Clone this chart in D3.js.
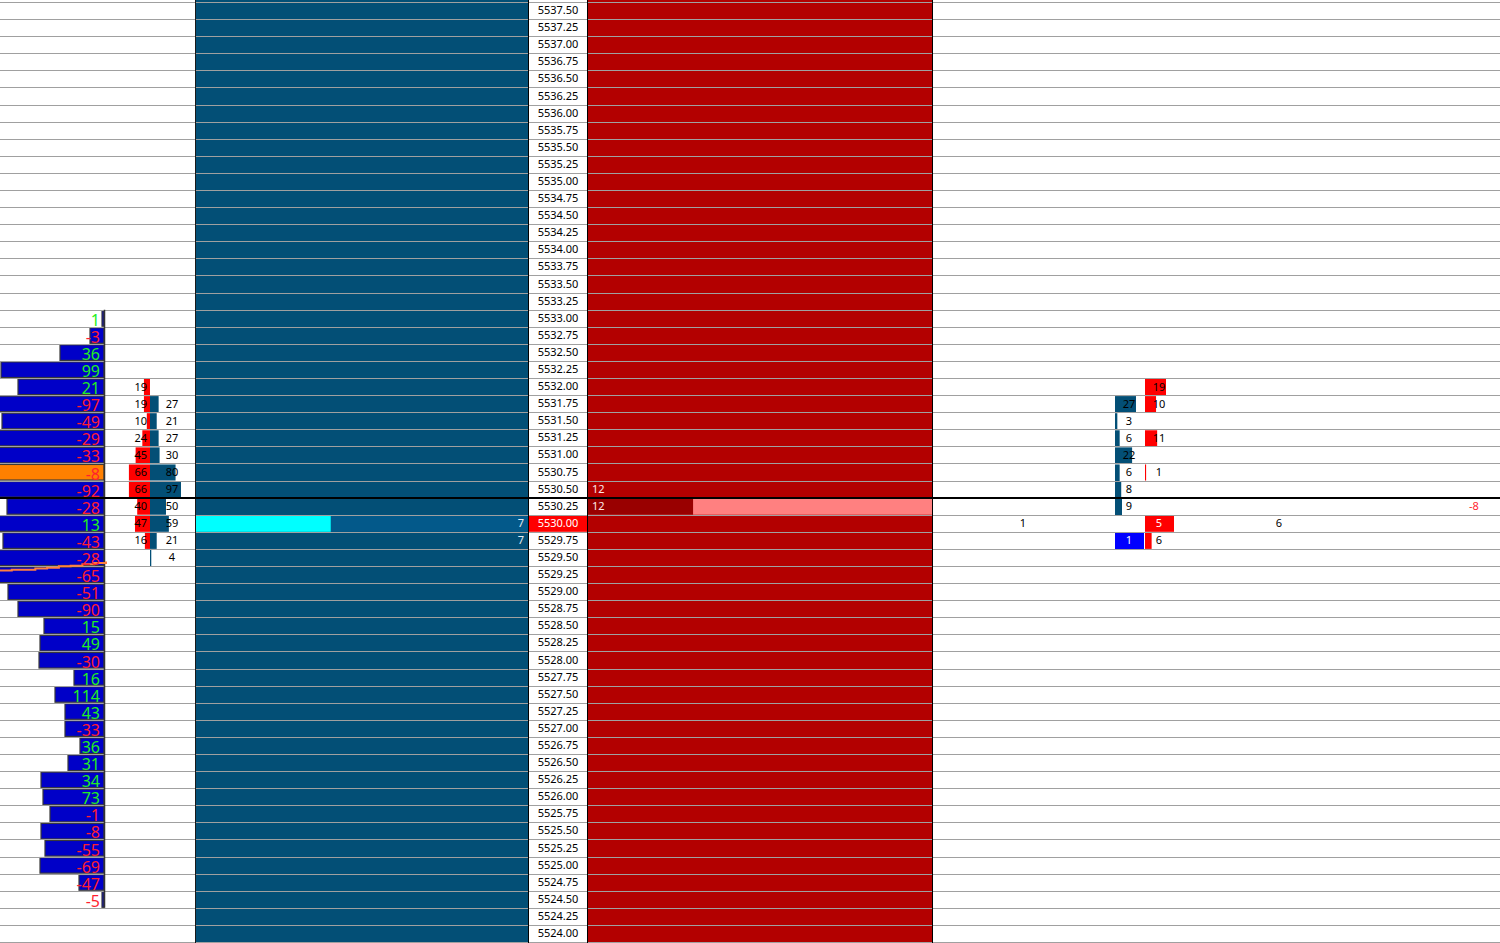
<!DOCTYPE html>
<html><head><meta charset="utf-8">
<script src="https://cdn.jsdelivr.net/npm/d3@7"></script>
<style>html,body{margin:0;padding:0;background:#fff;overflow:hidden}svg{display:block}text{font-family:"Noto Sans","Open Sans",sans-serif}</style>
</head><body><svg id="c" width="1500" height="943"></svg>
<script>
// ---------- DATA ----------
const priceLevels = [5537.50,5537.25,5537.00,5536.75,5536.50,5536.25,5536.00,5535.75,5535.50,5535.25,
  5535.00,5534.75,5534.50,5534.25,5534.00,5533.75,5533.50,5533.25,5533.00,5532.75,
  5532.50,5532.25,5532.00,5531.75,5531.50,5531.25,5531.00,5530.75,5530.50,5530.25,
  5530.00,5529.75,5529.50,5529.25,5529.00,5528.75,5528.50,5528.25,5528.00,5527.75,
  5527.50,5527.25,5527.00,5526.75,5526.50,5526.25,5526.00,5525.75,5525.50,5525.25,
  5525.00,5524.75,5524.50,5524.25,5524.00];
const lastPrice = 5530.00;
const currentLine = 5530.25; // line drawn at top of this row

const profilePrices = [5533.00,5532.75,5532.50,5532.25,5532.00,5531.75,5531.50,5531.25,5531.00,5530.75,
  5530.50,5530.25,5530.00,5529.75,5529.50,5529.25,5529.00,5528.75,5528.50,5528.25,
  5528.00,5527.75,5527.50,5527.25,5527.00,5526.75,5526.50,5526.25,5526.00,5525.75,
  5525.50,5525.25,5525.00,5524.75,5524.50];
const profileDelta = [1,-3,36,99,21,-97,-49,-29,-33,-8,-92,-28,13,-43,-28,-65,-51,-90,15,49,
  -30,16,114,43,-33,36,31,34,73,-1,-8,-55,-69,-47,-5];
const profileVol = [6,42,132,309,258,330,306,340,335,360,350,291,320,303,318,325,288,258,180,192,
  195,90,147,117,117,72,108,189,183,162,189,177,192,75,6];
const pocPrice = 5530.75;
const vwapValues = [5529.31,5529.32,5529.32,5529.34,5529.35,5529.37,5529.38,5529.40,5529.42,5529.44];

const fpPrices = [5532.00,5531.75,5531.50,5531.25,5531.00,5530.75,5530.50,5530.25,5530.00,5529.75,5529.50];
const fpBid = [19,19,10,24,45,66,66,40,47,16,null];
const fpAsk = [null,27,21,27,30,80,97,50,59,21,4];

const bidDepthPrices = [5530.00,5529.75];
const bidDepth = [7,7];
const askDepthPrices = [5530.50,5530.25];
const askDepth = [12,12];

const rtPrices = [5532.00,5531.75,5531.50,5531.25,5531.00,5530.75,5530.50,5530.25,5530.00,5529.75];
const rtBuy  = [null,27,3,6,22,6,8,9,null,1];
const rtSell = [19,10,null,11,null,1,null,null,5,6];
const rtBestSell = 5530.00;
const rtBestBuy = 5529.75;

const noteA = [{p:5530.00, v:1}];
const noteB = [{p:5530.00, v:6}];
const noteDelta = [{p:5530.25, v:-8}];

// ---------- DRAW ----------
const W = 1500, H = 943;
const svg = d3.select("#c");
const y = d3.scaleBand().domain(priceLevels).range([2, 942]).paddingInner(0).paddingOuter(0);
const h = y.bandwidth();
const yc = p => y(p) + h/2;
const yLin = d3.scaleLinear().domain([priceLevels[0], priceLevels[priceLevels.length-1]]).range([2+h/2, 942-h/2]);

const GREY = "#a0a0a0";
const BLUECOL = "#034f76";
const REDCOL = "#b30000";

// column backgrounds
svg.append("rect").attr("x",195).attr("y",0).attr("width",333).attr("height",H).attr("fill",BLUECOL);
svg.append("rect").attr("x",587).attr("y",0).attr("width",345).attr("height",H).attr("fill",REDCOL);

// ---- left profile ----
const xProf = d3.scaleLinear().domain([0,312]).range([0,104]);
const gP = svg.append("g");
gP.selectAll("rect").data(profilePrices).join("rect")
  .attr("x",(d,i)=>104 - xProf(profileVol[i]))
  .attr("y",d=>y(d)+1)
  .attr("width",(d,i)=>xProf(profileVol[i]))
  .attr("height",h-1.5)
  .attr("fill",d=>d===pocPrice?"#ff8000":"#0000c8")
  .attr("stroke","#3a3a3a").attr("stroke-width",1.2);

// ---- footprint column ----
const xFp = d3.scaleLinear().domain([0,97]).range([0,31]);
const gF = svg.append("g");
fpPrices.forEach((p,i)=>{
  if(fpBid[i]!=null) gF.append("rect").attr("x",150-xFp(fpBid[i])).attr("y",y(p)+1).attr("width",xFp(fpBid[i])).attr("height",h-1).attr("fill","#ff0000");
  if(fpAsk[i]!=null) gF.append("rect").attr("x",150).attr("y",y(p)+1).attr("width",Math.max(1.2,xFp(fpAsk[i]))).attr("height",h-1).attr("fill",BLUECOL);
});

// ---- bid depth column (blue) ----
const xBd = d3.scaleLinear().domain([0,17.3]).range([0,333]);
bidDepthPrices.forEach((p,i)=>{
  if(p===lastPrice){
    svg.append("rect").attr("x",196).attr("y",y(p)).attr("width",332).attr("height",h).attr("fill","#03598a");
    svg.append("rect").attr("x",196).attr("y",y(p)+1).attr("width",xBd(bidDepth[i])).attr("height",h-1).attr("fill","#00ffff");
  }
});

// ---- ask depth column (red) ----
const xAd = d3.scaleLinear().domain([0,39.4]).range([0,345]);
askDepthPrices.forEach((p,i)=>{
  if(p===currentLine){
    svg.append("rect").attr("x",588).attr("y",y(p)+1).attr("width",344).attr("height",h-1).attr("fill","#ff8080");
    svg.append("rect").attr("x",588).attr("y",y(p)+1).attr("width",xAd(askDepth[i])).attr("height",h-1).attr("fill","#990000");
  }
});

// ---- price column ----
svg.append("rect").attr("x",528).attr("y",0).attr("width",59).attr("height",H).attr("fill","#fff");
svg.append("rect").attr("x",528).attr("y",y(lastPrice)+1).attr("width",59).attr("height",h-1).attr("fill","#ff0000");

// ---- right trades ----
const xRb = d3.scaleLinear().domain([0,d3.max(rtBuy)]).range([0,21]);
const xRs = d3.scaleLinear().domain([0,d3.max(rtSell.filter((v,i)=>rtPrices[i]!==rtBestSell))]).range([0,21]);
rtPrices.forEach((p,i)=>{
  if(rtBuy[i]!=null){
    const best = p===rtBestBuy;
    svg.append("rect").attr("x",1115).attr("y",y(p)+1).attr("width",best?29:Math.max(1.5,xRb(rtBuy[i]))).attr("height",h-0.5).attr("fill",best?"#0000ff":BLUECOL);
  }
  if(rtSell[i]!=null){
    const best = p===rtBestSell;
    svg.append("rect").attr("x",1145).attr("y",y(p)+1).attr("width",best?29:Math.max(1,xRs(rtSell[i]))).attr("height",h-1).attr("fill","#ff0000");
  }
});

// ---- grid lines ----
const gridYs = priceLevels.map(p=>y(p)).concat([942]);
svg.append("g").selectAll("line").data(gridYs).join("line")
  .attr("x1",0).attr("x2",W).attr("y1",d=>Math.round(d)+0.5).attr("y2",d=>Math.round(d)+0.5)
  .attr("stroke",GREY).attr("stroke-width",1);

// profile right border
svg.append("line").attr("x1",104.5).attr("x2",104.5)
  .attr("y1",y(profilePrices[0])).attr("y2",y(profilePrices[profilePrices.length-1])+h)
  .attr("stroke","#333").attr("stroke-width",1.5);

// vwap line
const xV = d3.scaleLinear().domain([0,vwapValues.length-1]).range([0,106]);
svg.append("path").datum(vwapValues)
  .attr("d",d3.line().x((d,i)=>xV(i)).y(d=>yLin(d)).curve(d3.curveStepAfter))
  .attr("fill","none").attr("stroke","#ff7f3f").attr("stroke-width",2);

// vertical borders
[[195.5,"#1a1a1a"],[528.5,"#000"],[587.5,"#000"],[932.5,"#000"]].forEach(([x,c])=>{
  svg.append("line").attr("x1",x).attr("x2",x).attr("y1",0).attr("y2",H).attr("stroke",c).attr("stroke-width",1);
});

// ---- texts ----
// profile delta
svg.append("g").selectAll("text").data(profilePrices).join("text")
  .attr("x",100).attr("y",d=>yc(d)+7.5)
  .attr("text-anchor","end").attr("font-size",16)
  .attr("fill",(d,i)=>profileDelta[i]>=0?"#22ee22":"#ff1f2f")
  .text((d,i)=>profileDelta[i]);

// footprint numbers
fpPrices.forEach((p,i)=>{
  if(fpBid[i]!=null) svg.append("text").attr("x",147).attr("y",yc(p)+4).attr("text-anchor","end").attr("font-size",11).attr("fill","#000").text(fpBid[i]);
  if(fpAsk[i]!=null) svg.append("text").attr("x",172).attr("y",yc(p)+4).attr("text-anchor","middle").attr("font-size",11).attr("fill","#000").text(fpAsk[i]);
});

// price labels
svg.append("g").selectAll("text").data(priceLevels).join("text")
  .attr("x",558).attr("y",d=>yc(d)+3.5).attr("text-anchor","middle").attr("font-size",11)
  .attr("fill",d=>d===lastPrice?"#fff":"#000")
  .text(d=>d3.format(".2f")(d));

// bid depth texts
bidDepthPrices.forEach((p,i)=>{
  svg.append("text").attr("x",524).attr("y",yc(p)+4).attr("text-anchor","end").attr("font-size",11).attr("fill","#e8eef5").text(bidDepth[i]);
});
// ask depth texts
askDepthPrices.forEach((p,i)=>{
  svg.append("text").attr("x",592).attr("y",yc(p)+4).attr("text-anchor","start").attr("font-size",11).attr("fill","#ffe8e8").text(askDepth[i]);
});

// right trades texts
rtPrices.forEach((p,i)=>{
  if(rtBuy[i]!=null) svg.append("text").attr("x",1129).attr("y",yc(p)+4).attr("text-anchor","middle").attr("font-size",11)
    .attr("fill",p===rtBestBuy?"#fff":"#000").text(rtBuy[i]);
  if(rtSell[i]!=null) svg.append("text").attr("x",1159).attr("y",yc(p)+4).attr("text-anchor","middle").attr("font-size",11)
    .attr("fill",p===rtBestSell?"#fff":"#000").text(rtSell[i]);
});
noteA.forEach(d=>svg.append("text").attr("x",1023).attr("y",yc(d.p)+4).attr("text-anchor","middle").attr("font-size",11).attr("fill","#000").text(d.v));
noteB.forEach(d=>svg.append("text").attr("x",1279).attr("y",yc(d.p)+4).attr("text-anchor","middle").attr("font-size",11).attr("fill","#000").text(d.v));
noteDelta.forEach(d=>svg.append("text").attr("x",1474).attr("y",yc(d.p)+4).attr("text-anchor","middle").attr("font-size",11).attr("fill","#ff1f2f").text(d.v));

// current price line
svg.append("line").attr("x1",0).attr("x2",W).attr("y1",Math.round(y(currentLine))).attr("y2",Math.round(y(currentLine)))
  .attr("stroke","#000").attr("stroke-width",2);
</script></body></html>
